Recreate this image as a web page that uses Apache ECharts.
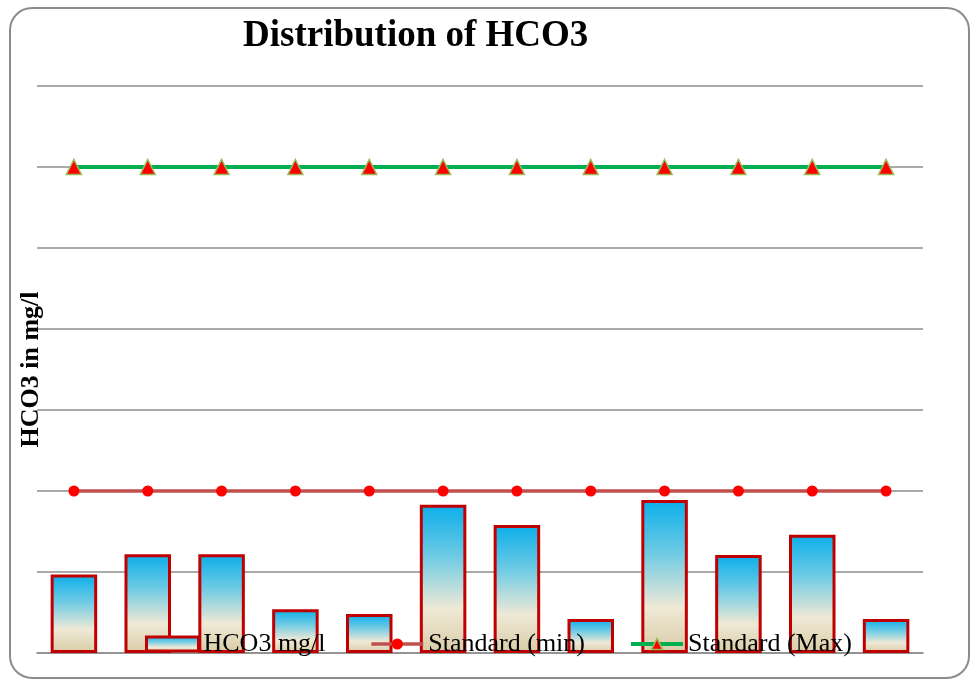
<!DOCTYPE html>
<html>
<head>
<meta charset="utf-8">
<script src="https://cdn.jsdelivr.net/npm/echarts@6/dist/echarts.min.js"></script>
<style>
  html, body { margin: 0; padding: 0; background: #ffffff; }
  #chart { width: 971px; height: 679px; }
</style>
</head>
<body>
<div id="chart"></div>
<script>
// Sampling points (not labelled on the axis)
const categories = ['1', '2', '3', '4', '5', '6', '7', '8', '9', '10', '11', '12'];
// Measured bicarbonate, mg/l
const hco3Values = [97, 122, 122, 54, 48, 183, 158, 42, 189, 121, 146, 42];
// Permissible limits, mg/l
const standardMin = [200, 200, 200, 200, 200, 200, 200, 200, 200, 200, 200, 200];
const standardMax = [600, 600, 600, 600, 600, 600, 600, 600, 600, 600, 600, 600];
const seriesNames = ['HCO3 mg/l', 'Standard (min)', 'Standard (Max)'];

const serif = "'Liberation Serif', 'Times New Roman', serif";

const chart = echarts.init(document.getElementById('chart'), null, { renderer: 'canvas' });

const barFill = () => new echarts.graphic.LinearGradient(0, 0, 0, 1, [
  { offset: 0, color: '#0aaeea' },
  { offset: 0.35, color: '#6fcbe4' },
  { offset: 0.7, color: '#efe9d6' },
  { offset: 1, color: '#d9cba6' }
]);

const minLine = { color: '#c0504d', width: 3.5 };
const maxLine = { color: '#00b050', width: 4 };
const minMarker = { color: '#ff0000', borderWidth: 0 };
const maxMarker = { color: '#ff0000', borderColor: '#9bbb59', borderWidth: 1.5 };
const barStyle = { color: barFill(), borderColor: '#c00000', borderWidth: 3 };

chart.setOption({
  animation: false,
  backgroundColor: '#ffffff',
  title: {
    text: 'Distribution of HCO3',
    left: 238,
    top: 13,
    textStyle: { fontFamily: serif, fontWeight: 'bold', fontSize: 37, color: '#000000' }
  },
  legend: {
    data: [
      { name: seriesNames[0], icon: 'rect', itemStyle: barStyle },
      { name: seriesNames[1], lineStyle: minLine, itemStyle: minMarker },
      { name: seriesNames[2], lineStyle: maxLine, itemStyle: maxMarker }
    ],
    left: 145,
    top: 631,
    padding: 0,
    itemWidth: 52,
    itemHeight: 14,
    itemGap: 44,
    textStyle: { fontFamily: serif, fontSize: 26, color: '#000000' }
  },
  grid: { left: 37, right: 48, top: 86, bottom: 26, containLabel: false, outerBoundsMode: 'none' },
  xAxis: {
    type: 'category',
    data: categories,
    axisLine: { show: true, lineStyle: { color: '#8c8c8c', width: 1.5 } },
    axisTick: { show: false },
    axisLabel: { show: false }
  },
  yAxis: {
    type: 'value',
    min: 0,
    max: 700,
    interval: 100,
    name: 'HCO3 in mg/l',
    nameLocation: 'middle',
    nameGap: -7,
    nameTextStyle: { fontFamily: serif, fontWeight: 'bold', fontSize: 26, color: '#000000' },
    axisLine: { show: false },
    axisTick: { show: false },
    axisLabel: { show: false },
    splitLine: { lineStyle: { color: '#8c8c8c', width: 1.5 } }
  },
  graphic: [{
    type: 'rect',
    shape: { x: 10, y: 8, width: 959, height: 670, r: 22 },
    style: { fill: 'none', stroke: '#8c8c8c', lineWidth: 2 },
    silent: true,
    z: 100
  }],
  series: [
    {
      name: seriesNames[0],
      type: 'bar',
      data: hco3Values,
      barWidth: '63%',
      itemStyle: barStyle
    },
    {
      name: seriesNames[1],
      type: 'line',
      data: standardMin,
      symbol: 'circle',
      symbolSize: 11,
      lineStyle: minLine,
      itemStyle: minMarker
    },
    {
      name: seriesNames[2],
      type: 'line',
      data: standardMax,
      symbol: 'triangle',
      symbolSize: 15,
      lineStyle: maxLine,
      itemStyle: maxMarker
    }
  ]
});
</script>
</body>
</html>
